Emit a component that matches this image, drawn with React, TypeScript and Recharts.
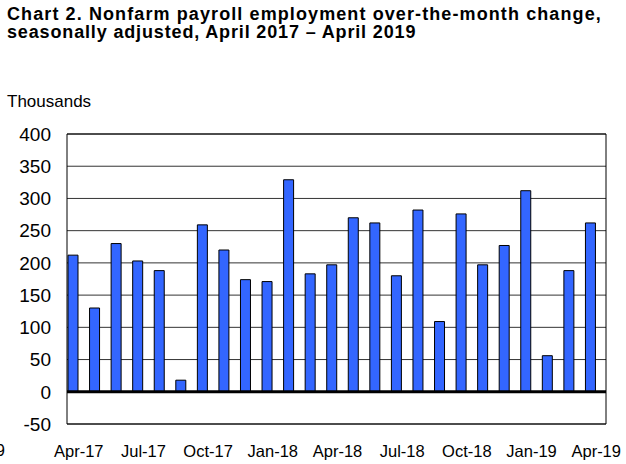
import React from 'react';
import { BarChart, Bar, XAxis, YAxis, CartesianGrid, ReferenceLine, ReferenceArea, Rectangle } from 'recharts';

// monthly labels, Apr-17 .. Apr-19
const months = [
  'Apr-17', 'May-17', 'Jun-17', 'Jul-17', 'Aug-17', 'Sep-17', 'Oct-17', 'Nov-17', 'Dec-17',
  'Jan-18', 'Feb-18', 'Mar-18', 'Apr-18', 'May-18', 'Jun-18', 'Jul-18', 'Aug-18', 'Sep-18',
  'Oct-18', 'Nov-18', 'Dec-18', 'Jan-19', 'Feb-19', 'Mar-19', 'Apr-19',
];

// over-the-month change, thousands
const change = [
  212, 130, 230, 203, 188, 18, 259, 220, 174,
  171, 329, 183, 197, 270, 262, 180, 282, 109,
  276, 197, 227, 312, 56, 188, 262,
];

const yTicks = [-50, 0, 50, 100, 150, 200, 250, 300, 350, 400];

const data = months.map((m, i) => ({ month: m, value: change[i] }));

const font = '"Liberation Sans", Arial, sans-serif';

// bars in the original sit a little left of the category centre
const ShiftedBar = (props: any) => <Rectangle {...props} x={props.x - 5} />;

export default function App() {
  return (
    <div style={{ position: 'absolute', left: 0, top: 0, width: 626, height: 464, background: '#fff', fontFamily: font }}>
      <BarChart
        width={626}
        height={464}
        data={data}
        margin={{ top: 134, right: 20, bottom: 10, left: 0 }}
      >
        <CartesianGrid vertical={false} stroke="#333" strokeWidth={1} />
        <ReferenceArea y1={-50} y2={400} fill="none" stroke="#000" strokeWidth={1} />
        <XAxis
          dataKey="month"
          interval={2}
          axisLine={false}
          tickLine={false}
          height={30}
          tickMargin={15}
          tick={{ fill: '#000', fontSize: 16.5, fontFamily: font, dx: 1 }}
        />
        <YAxis
          domain={[-50, 400]}
          ticks={yTicks}
          axisLine={false}
          tickLine={false}
          width={67}
          tickMargin={10}
          interval={0}
          tick={{ fill: '#000', fontSize: 19, fontFamily: font }}
        />
        <Bar
          dataKey="value"
          fill="#3366FF"
          stroke="#000"
          strokeWidth={1}
          barSize={10}
          shape={ShiftedBar}
          isAnimationActive={false}
        />
        <ReferenceLine y={0} stroke="#000" strokeWidth={3} />
      </BarChart>
      <svg width={626} height={464} style={{ position: 'absolute', left: 0, top: 0, pointerEvents: 'none' }}>
        <text x={7} y={20} fontSize={18} fontWeight="bold" fontFamily={font} letterSpacing={1.1} fill="#000">
          Chart 2. Nonfarm payroll employment over-the-month change,
        </text>
        <text x={7} y={38} fontSize={18} fontWeight="bold" fontFamily={font} letterSpacing={0.85} fill="#000">
          seasonally adjusted, April 2017 – April 2019
        </text>
        <text x={7} y={107} fontSize={17} fontFamily={font} fill="#000">
          Thousands
        </text>
        <text x={5} y={456} fontSize={16.5} fontFamily={font} fill="#000" textAnchor="end">
          9
        </text>
      </svg>
    </div>
  );
}
